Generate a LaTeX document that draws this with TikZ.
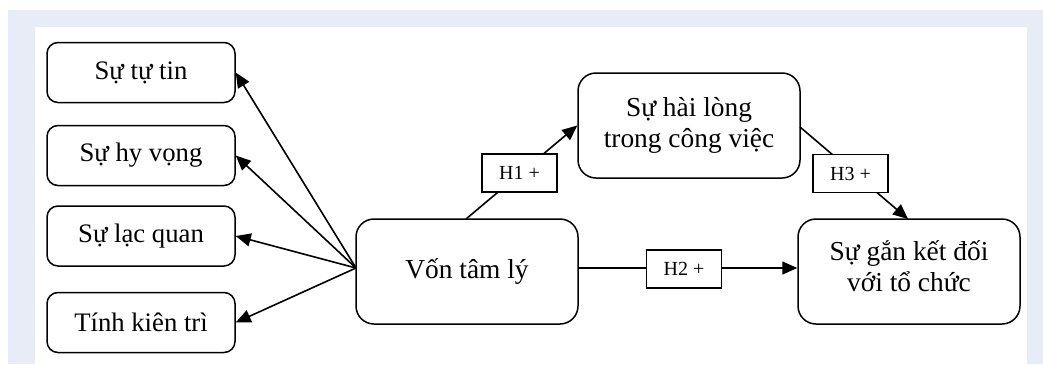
\documentclass[tikz,border=0pt]{standalone}
\usepackage{fontspec}
\setmainfont{Liberation Serif}
\usetikzlibrary{arrows.meta}
\definecolor{bgblue}{RGB}{231,236,247}
\tikzset{
  smallbox/.style={draw, line width=1.5pt, rounded corners=11pt, minimum width=188pt, minimum height=60pt, inner sep=0pt, font=\fontsize{26.7}{32}\selectfont},
  bigbox/.style={draw, line width=1.5pt, rounded corners=18pt, minimum width=222pt, minimum height=105pt, inner sep=0pt, font=\fontsize{27.4}{31}\selectfont, align=center},
  bigtext/.style={inner sep=0pt, font=\fontsize{27.4}{31}\selectfont, align=center},
  hbox/.style={draw, fill=white, line width=1.5pt, minimum width=75pt, minimum height=38pt, inner sep=0pt, font=\fontsize{20}{24}\selectfont},
  conn/.style={line width=1.6pt, -{Triangle[length=15pt,width=13pt]}}
}
\begin{document}
\begin{tikzpicture}[x=1pt,y=-1pt]
\useasboundingbox (0,0) rectangle (1043,364);
\fill[white] (0,0) rectangle (1043,364);
\fill[bgblue] (8,10) rectangle (35,364);
\fill[bgblue] (8,10) rectangle (1043,27);
\fill[bgblue] (1027,10) rectangle (1043,364);

\node[smallbox] (tutin) at (141,72.5) {Sự tự tin};
\node[smallbox] (hyvong) at (141,155.5) {Sự hy vọng};
\node[smallbox] (lacquan) at (141,236) {Sự lạc quan};
\node[smallbox] (kientri) at (141,322.5) {Tính kiên trì};

\node[bigbox] (von) at (467,271.5) {Vốn tâm lý};
\node[bigbox] (hailong) at (689,125.5) {Sự hài lòng\\trong công việc};
\node[bigbox] (ganket) at (909,271.5) {};
\node[bigtext] (ganketlbl) at (909,266) {Sự gắn kết đối\\với tổ chức};

\coordinate (src) at (356,268);
\draw[conn] (src) -- (tutin.east);
\draw[conn] (src) -- (hyvong.east);
\draw[conn] (src) -- (lacquan.east);
\draw[conn] (src) -- (kientri.east);

\coordinate (h1start) at (466,219);
\draw[conn] (h1start) -- (hailong.west);
\node[hbox] (h1) at (519.5,173) {H1 +};

\coordinate (h3start) at (800,127);
\coordinate (h3end) at (908,219);
\draw[conn] (h3start) -- (h3end);
\node[hbox] (h3) at (850.5,173.5) {H3 +};

\draw[conn] (von.east |- 0,268) -- (ganket.west |- 0,268);
\node[hbox] (h2) at (684,269) {H2 +};
\end{tikzpicture}
\end{document}
